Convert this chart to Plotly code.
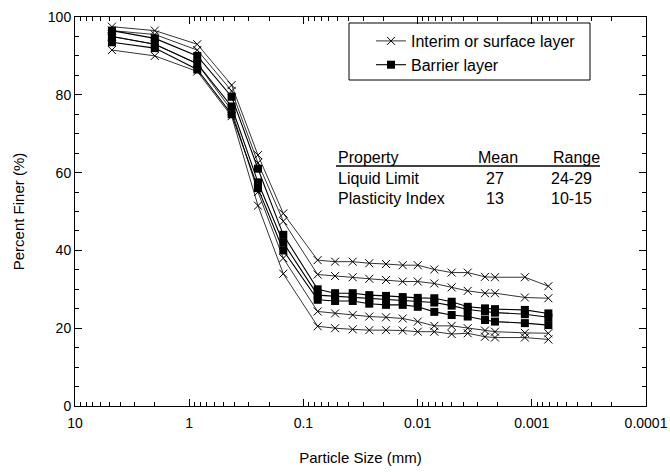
import plotly.graph_objects as go

# Particle sizes (mm): sieves then hydrometer
sizes = [4.75, 2.0, 0.85, 0.425, 0.25, 0.15, 0.075,
         0.0528, 0.037, 0.0265, 0.0189, 0.0135, 0.00997, 0.00714,
         0.00503, 0.00364, 0.00257, 0.0021, 0.00115, 0.000716]

# Interim or surface layer samples (percent finer)
interim_a = [97.5, 96.5, 93.0, 82.5, 64.5, 49.5, 37.5,
             37.1, 37.1, 36.7, 36.5, 36.2, 36.2, 35.1, 34.3, 34.3, 33.2, 33.1, 33.1, 30.8]
interim_b = [96.5, 95.5, 91.5, 81.0, 62.5, 47.5, 33.8,
             33.4, 33.1, 32.7, 32.4, 32.0, 32.0, 31.5, 30.5, 29.6, 29.0, 29.0, 27.9, 27.7]
interim_c = [95.0, 93.0, 88.0, 76.0, 55.0, 38.0, 24.3,
             23.8, 23.4, 23.0, 22.8, 22.5, 21.7, 20.6, 20.6, 20.0, 19.4, 19.1, 18.8, 18.7]
interim_d = [91.5, 90.0, 86.0, 74.5, 51.5, 34.0, 20.5,
             20.0, 19.7, 19.5, 19.5, 19.4, 19.1, 19.1, 18.5, 18.7, 17.8, 17.6, 17.6, 17.1]

# Barrier layer samples (percent finer)
barrier_e = [96.5, 94.5, 90.0, 79.5, 61.0, 44.0, 30.0,
             29.0, 29.0, 28.5, 28.3, 28.0, 27.8, 27.7, 26.8, 25.5, 25.1, 24.9, 24.7, 23.8]
barrier_g = [95.0, 93.0, 88.0, 77.0, 57.5, 42.0, 28.5,
             28.2, 28.0, 27.6, 27.3, 27.0, 26.8, 26.6, 25.8, 24.8, 24.3, 24.0, 23.6, 22.8]
barrier_f = [93.5, 92.0, 86.5, 75.0, 56.0, 40.0, 27.3,
             27.0, 27.0, 26.3, 26.0, 26.0, 25.5, 24.2, 23.4, 23.0, 22.1, 21.7, 21.3, 20.8]

interim_series = [interim_a, interim_b, interim_c, interim_d]
barrier_series = [barrier_e, barrier_g, barrier_f]

x_tick_vals = [10, 1, 0.1, 0.01, 0.001, 0.0001]
x_tick_text = ["10", "1", "0.1", "0.01", "0.001", "0.0001"]
x_minor_vals = [m * 10.0 ** e for e in range(-4, 1) for m in range(2, 10)]

table_rows = [("Property", "Mean", "Range"),
              ("Liquid Limit", "27", "24-29"),
              ("Plasticity Index", "13", "10-15")]

FONT = "Arial, Liberation Sans, sans-serif"

fig = go.Figure()
for i, ys in enumerate(interim_series):
    fig.add_trace(go.Scatter(
        x=sizes, y=ys, mode="lines+markers",
        name="Interim or surface layer", legendgroup="interim",
        showlegend=(i == 0),
        line=dict(color="black", width=0.8),
        marker=dict(symbol="x-thin", size=8, line=dict(color="black", width=1))))
for i, ys in enumerate(barrier_series):
    fig.add_trace(go.Scatter(
        x=sizes, y=ys, mode="lines+markers",
        name="Barrier layer", legendgroup="barrier",
        showlegend=(i == 0),
        line=dict(color="black", width=1.1),
        marker=dict(symbol="square", size=8, color="black")))

W, H = 670, 472
L, R, T, B = 75, 24, 17, 66
pw, ph = W - L - R, H - T - B

def px_to_paper(px, py):
    return (px - L) / pw, (H - B - py) / ph

# Property table as text
col_x = [[336, 498, 576], [336, 495, 571], [336, 495, 571]]
row_y = [157, 178, 198]
for r, row in enumerate(table_rows):
    for c, txt in enumerate(row):
        xp, yp = px_to_paper(col_x[r][c], row_y[r])
        fig.add_annotation(
            x=xp, y=yp, xref="paper", yref="paper", text=txt, showarrow=False,
            xanchor="left" if c == 0 else "center", yanchor="middle",
            font=dict(family=FONT, size=16, color="black"))

x0p, y0p = px_to_paper(336, 166)
x1p, _ = px_to_paper(600, 166)
fig.add_shape(type="line", xref="paper", yref="paper", x0=x0p, x1=x1p, y0=y0p, y1=y0p,
              line=dict(color="black", width=1.5))

# Legend frame
bx0, by0 = px_to_paper(349, 80)
bx1, by1 = px_to_paper(590, 23)
fig.add_shape(type="rect", xref="paper", yref="paper", x0=bx0, x1=bx1, y0=by0, y1=by1,
              line=dict(color="black", width=1), fillcolor="white", layer="below")

lx, ly = px_to_paper(371, 24)
fig.update_layout(
    width=W, height=H,
    margin=dict(l=L, r=R, t=T, b=B),
    paper_bgcolor="white", plot_bgcolor="white",
    font=dict(family=FONT, size=14, color="black"),
    showlegend=True,
    legend=dict(x=lx, y=ly, xanchor="left", yanchor="top",
                borderwidth=0, bgcolor="rgba(0,0,0,0)",
                tracegroupgap=0, font=dict(size=16)),
    xaxis=dict(type="log", range=[1, -4], tickvals=x_tick_vals, ticktext=x_tick_text,
               ticks="inside", ticklen=7, tickcolor="black", showline=True,
               linecolor="black", linewidth=1, mirror="ticks", showgrid=False,
               zeroline=False, ticklabelstandoff=4, automargin=False,
               tickfont=dict(size=14),
               minor=dict(tickvals=x_minor_vals, ticks="inside", ticklen=4,
                          tickcolor="black", showgrid=False),
               title=dict(text="Particle Size (mm)", standoff=22,
                          font=dict(size=15))),
    yaxis=dict(range=[0, 100], dtick=20, ticks="inside", ticklen=7,
               tickcolor="black", showline=True, linecolor="black", linewidth=1,
               mirror="ticks", showgrid=False, zeroline=False, automargin=False,
               tickfont=dict(size=14),
               minor=dict(dtick=5, ticks="inside", ticklen=4, tickcolor="black",
                          showgrid=False),
               title=dict(text="Percent Finer (%)", standoff=19,
                          font=dict(size=15))),
)

fig.write_html("out.html", config={"displayModeBar": False},
               post_script="document.body.style.margin='0';")
